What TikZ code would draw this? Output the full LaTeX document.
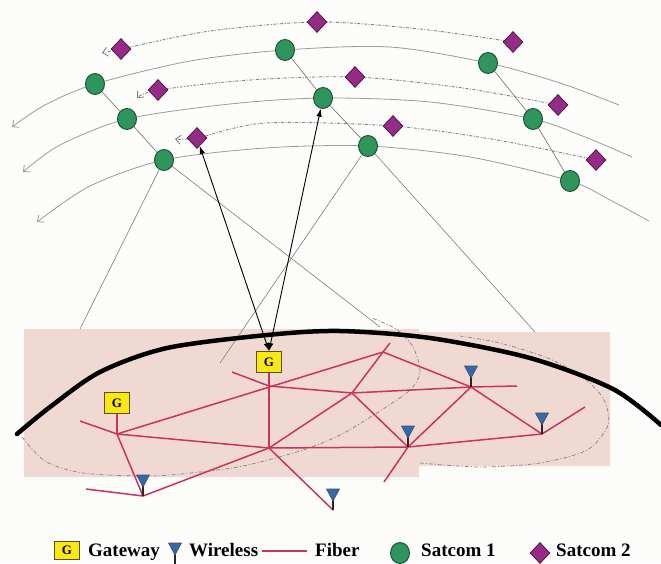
\documentclass[tikz,border=0pt]{standalone}
\usepackage{fontspec}
\setmainfont{Liberation Serif}
\usetikzlibrary{shapes.geometric,arrows.meta}
\pgfdeclarelayer{base}
\pgfdeclarelayer{lines}
\pgfsetlayers{base,lines,main}
\definecolor{bg}{RGB}{252,252,250}
\definecolor{pinkbg}{RGB}{241,217,211}
\definecolor{fibercol}{RGB}{200,52,92}
\definecolor{satgreen}{RGB}{46,150,92}
\definecolor{satgreenD}{RGB}{25,75,45}
\definecolor{satpurple}{RGB}{150,42,135}
\definecolor{satpurpleD}{RGB}{70,20,60}
\definecolor{gwyellow}{RGB}{250,232,20}
\definecolor{gwborder}{RGB}{90,80,30}
\definecolor{wblue}{RGB}{50,105,175}
\definecolor{orbitgray}{RGB}{155,155,155}
\definecolor{conegray}{RGB}{125,125,125}
\newcommand\antennaicon[1]{%
  \draw[wstem] (#1) -- ++(0,-11);
  \filldraw[wtri, shift={(#1)}] (-6.5,-21) -- (6.5,-21) -- (0,-9) -- cycle;}
\begin{document}
\begin{tikzpicture}[x=1pt,y=-1pt,
  sat1/.style={ellipse, draw=satgreenD, fill=satgreen, line width=0.9pt, minimum width=19pt, minimum height=21pt, inner sep=0pt},
  sat2/.style={diamond, draw=satpurpleD, fill=satpurple, line width=0.7pt, minimum width=20pt, minimum height=21pt, inner sep=0pt},
  gw/.style={draw=gwborder, fill=gwyellow, line width=1pt, minimum width=25pt, minimum height=21pt, inner sep=0pt, font=\fontsize{13}{13}\selectfont\bfseries},
  orbit/.style={draw=orbitgray, line width=0.8pt, -{Straight Barb[length=5pt,width=9pt]}},
  orbitd/.style={draw=orbitgray!85!black, line width=0.9pt, dash pattern=on 3pt off 1.5pt on 1pt off 1.5pt, -{Straight Barb[length=5pt,width=9pt]}},
  foot/.style={draw=gray, line width=0.7pt, dash pattern=on 4pt off 2pt on 1pt off 2pt},
  cone/.style={draw=conegray, line width=0.6pt},
  plane/.style={draw=conegray, line width=0.7pt},
  fiber/.style={draw=fibercol, line width=1.5pt},
  earth/.style={draw=black, line width=4.5pt, line cap=round},
  wstem/.style={draw=black!85, line width=1.3pt},
  wtri/.style={fill=wblue, draw=black!70, line width=0.6pt, line join=round},
  link/.style={draw=black, line width=0.9pt, {Latex[length=8pt,width=5.5pt]}-{Latex[length=8pt,width=5.5pt]}},
  lbl/.style={font=\fontsize{19}{19}\selectfont\bfseries, inner sep=0pt, anchor=base west}
]
\useasboundingbox (0,0) rectangle (661,563);
\begin{pgfonlayer}{base}
\fill[bg] (0,0) rectangle (661,563);
\fill[pinkbg] (24,329) -- (419,329) -- (419,332) -- (610,332) -- (610,466) -- (419,466) -- (419,477) -- (24,477) -- cycle;
\draw[foot] plot[smooth] coordinates {(22,437) (45,461) (83,473) (150,476) (200,472) (243,466) (300,451) (340,435) (380,411) (410,390) (420,372) (413,347) (396,329) (372,318)};
\draw[foot] plot[smooth] coordinates {(420,463) (480,467) (540,463) (587,450) (608,425) (604,400) (585,379) (550,359) (500,343) (460,336)};
\end{pgfonlayer}
% satellites
\node[sat1] (c1) at (95,84) {};
\node[sat1] (c2) at (127,119) {};
\node[sat1] (c3) at (164,160) {};
\node[sat1] (c4) at (285,50) {};
\node[sat1] (c5) at (323,98) {};
\node[sat1] (c6) at (368,146) {};
\node[sat1] (c7) at (488,63) {};
\node[sat1] (c8) at (533,119) {};
\node[sat1] (c9) at (570,181) {};
\node[sat2] (d1) at (121,49) {};
\node[sat2] (d2) at (317,22) {};
\node[sat2] (d3) at (513,42) {};
\node[sat2] (d4) at (158,90) {};
\node[sat2] (d5) at (355,77) {};
\node[sat2] (d6) at (558,105) {};
\node[sat2] (d7) at (197,138) {};
\node[sat2] (d8) at (393,126) {};
\node[sat2] (d9) at (596,160) {};
% gateways and network points
\node[gw] (G1) at (117,403) {G};
\node[gw] (G2) at (269,362) {G};
\coordinate (J1) at (117,434);
\coordinate (J2) at (269,386);
\coordinate (J3) at (269,448);
\coordinate (J4) at (352,393);
\coordinate (J5) at (383,352);
\coordinate (W1) at (143,496);
\coordinate (W2) at (408,447);
\coordinate (W3) at (471,387);
\coordinate (W4) at (542,434);
\coordinate (W5) at (333,510);
\coordinate (e1) at (80,421);
\coordinate (e2) at (86,489);
\coordinate (e3) at (232,372);
\coordinate (e4) at (390,343);
\coordinate (e5) at (517,386);
\coordinate (e6) at (585,407);
\coordinate (e7) at (384,482);
\coordinate (k1) at (80,329);
\coordinate (k2) at (380,327);
\coordinate (k3) at (220,363);
\coordinate (k4) at (535,332);
\begin{pgfonlayer}{lines}
\draw[cone] (c3) -- (k1);
\draw[cone] (c3) -- (k2);
\draw[cone] (c6) -- (k3);
\draw[cone] (c6) -- (k4);
\draw[orbit] plot[smooth] coordinates {(619,105) (560,83) (c7) (390,47) (c4) (190,61) (c1) (45,105) (12,127)};
\draw[orbit] plot[smooth] coordinates {(632,157) (585,137) (c8) (430,102) (c5) (230,104) (c2) (60,145) (23,172)};
\draw[orbit] plot[smooth] coordinates {(649,221) (610,200) (c9) (470,157) (c6) (265,148) (c3) (90,186) (37,222)};
\draw[orbitd] plot[smooth] coordinates {(d3) (420,29) (d2) (210,31) (d1) (102,53)};
\draw[orbitd] plot[smooth] coordinates {(d6) (463,88) (d5) (250,80) (d4) (137,98)};
\draw[orbitd] plot[smooth] coordinates {(d9) (497,140) (d8) (265,123) (d7) (175,139)};
\draw[plane] (c1) -- (c2) -- (c3);
\draw[plane] (c4) -- (c5) -- (c6);
\draw[plane] (c7) -- (c8) -- (c9);
\draw[fiber] (G1) -- (J1);
\draw[fiber] (e1) -- (J1) -- (J3) -- (W2) -- (W4) -- (e6);
\draw[fiber] (J1) -- (J5);
\draw[fiber] (J1) -- (W1);
\draw[fiber] (e2) -- (W1) -- (J3);
\draw[fiber] (e3) -- (J2);
\draw[fiber] (G2) -- (J3);
\draw[fiber] (J2) -- (J4) -- (W3) -- (e5);
\draw[fiber] (J3) -- (J4) -- (J5) -- (e4);
\draw[fiber] (J5) -- (W3) -- (W4);
\draw[fiber] (J4) -- (W2);
\draw[fiber] (W3) -- (W2) -- (e7);
\draw[fiber] (J3) -- (W5);
\draw[earth] plot[smooth] coordinates {(17,434) (50,407) (100,372) (167,348) (267,335) (340,331) (430,338) (530,358) (613,389) (661,425)};
\end{pgfonlayer}
\antennaicon{W1}
\antennaicon{W2}
\antennaicon{W3}
\antennaicon{W4}
\antennaicon{W5}
% links
\draw[link] (d7) -- (G2.north);
\draw[link] (c5) -- (G2.north);
% legend
\node[gw, minimum height=18pt] (LG) at (67,550) {G};
\node[lbl] (LGt) at (88,556) {Gateway};
\coordinate (LW) at (175,564);
\antennaicon{LW}
\node[lbl] (LWt) at (189,556) {Wireless};
\coordinate (LF1) at (262,551);
\coordinate (LF2) at (307,551);
\draw[fiber, line width=1.2pt] (LF1) -- (LF2);
\node[lbl] (LFt) at (315,556) {Fiber};
\node[sat1] (LS1) at (400,553) {};
\node[lbl] (LS1t) at (421,556) {Satcom 1};
\node[sat2] (LS2) at (540,553) {};
\node[lbl] (LS2t) at (556,556) {Satcom 2};
\end{tikzpicture}
\end{document}
